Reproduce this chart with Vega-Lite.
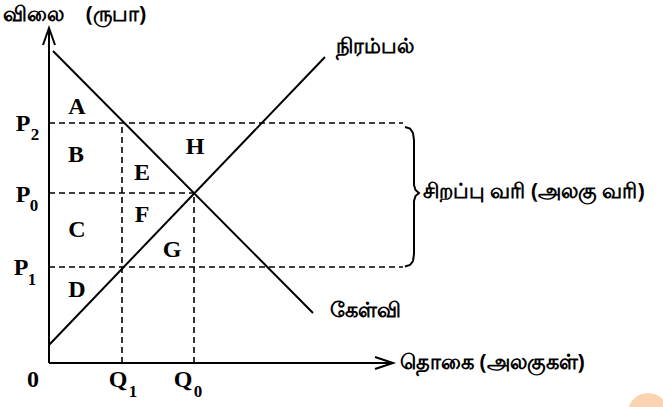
{
  "$schema": "https://vega.github.io/schema/vega-lite/v6.json",
  "width": 663,
  "height": 407,
  "autosize": {"type": "none"},
  "padding": 0,
  "background": "white",
  "config": {"view": {"stroke": null}},
  "datasets": {
    "solid": [
      {"id": "demand", "ord": 1, "x": 0.4, "y": 31.2},
      {"id": "demand", "ord": 2, "x": 26.4, "y": 5.0},
      {"id": "supply", "ord": 1, "x": 0, "y": 1.8},
      {"id": "supply", "ord": 2, "x": 27.6, "y": 30.6},
      {"id": "yaxis", "ord": 1, "x": 0, "y": 0},
      {"id": "yaxis", "ord": 2, "x": 0, "y": 33.4},
      {"id": "yarrow", "ord": 1, "x": -0.6, "y": 31.8},
      {"id": "yarrow", "ord": 2, "x": 0, "y": 33.5},
      {"id": "yarrow", "ord": 3, "x": 0.6, "y": 31.8},
      {"id": "xaxis", "ord": 1, "x": 0, "y": 0},
      {"id": "xaxis", "ord": 2, "x": 34.4, "y": 0},
      {"id": "xarrow", "ord": 1, "x": 32.6, "y": 0.6},
      {"id": "xarrow", "ord": 2, "x": 34.4, "y": 0},
      {"id": "xarrow", "ord": 3, "x": 32.6, "y": -0.6},
      {"id": "brace", "ord": 1, "x": 35.6, "y": 23.6},
      {"id": "brace", "ord": 2, "x": 36.1, "y": 23.45},
      {"id": "brace", "ord": 3, "x": 36.4, "y": 23.0},
      {"id": "brace", "ord": 4, "x": 36.5, "y": 22.3},
      {"id": "brace", "ord": 5, "x": 36.5, "y": 17.8},
      {"id": "brace", "ord": 6, "x": 36.65, "y": 17.3},
      {"id": "brace", "ord": 7, "x": 37.0, "y": 17.0},
      {"id": "brace", "ord": 8, "x": 36.65, "y": 16.7},
      {"id": "brace", "ord": 9, "x": 36.5, "y": 16.2},
      {"id": "brace", "ord": 10, "x": 36.5, "y": 10.9},
      {"id": "brace", "ord": 11, "x": 36.4, "y": 10.2},
      {"id": "brace", "ord": 12, "x": 36.1, "y": 9.8},
      {"id": "brace", "ord": 13, "x": 35.6, "y": 9.65}
    ],
    "dashed": [
      {"id": "p2", "ord": 1, "x": 0, "y": 24.0},
      {"id": "p2", "ord": 2, "x": 35.4, "y": 24.0},
      {"id": "p0", "ord": 1, "x": 0, "y": 17.0},
      {"id": "p0", "ord": 2, "x": 14.5, "y": 17.0},
      {"id": "p1", "ord": 1, "x": 0, "y": 9.6},
      {"id": "p1", "ord": 2, "x": 35.4, "y": 9.6},
      {"id": "q1", "ord": 1, "x": 7.3, "y": 0},
      {"id": "q1", "ord": 2, "x": 7.3, "y": 24.0},
      {"id": "q0", "ord": 1, "x": 14.5, "y": 0},
      {"id": "q0", "ord": 2, "x": 14.5, "y": 17.0}
    ],
    "letters": [
      {"t": "A", "x": 2.8, "y": 25.6},
      {"t": "B", "x": 2.7, "y": 20.8},
      {"t": "C", "x": 2.8, "y": 13.3},
      {"t": "D", "x": 2.8, "y": 7.3},
      {"t": "E", "x": 9.3, "y": 19.0},
      {"t": "F", "x": 9.3, "y": 14.8},
      {"t": "G", "x": 12.3, "y": 11.3},
      {"t": "H", "x": 14.6, "y": 21.6},
      {"t": "P", "x": -2.6, "y": 23.9},
      {"t": "P", "x": -2.6, "y": 16.8},
      {"t": "P", "x": -2.8, "y": 9.5},
      {"t": "0", "x": -1.6, "y": -1.7},
      {"t": "Q", "x": 6.9, "y": -1.7},
      {"t": "Q", "x": 13.4, "y": -1.7}
    ],
    "subs": [
      {"t": "2", "x": -1.4, "y": 22.8},
      {"t": "0", "x": -1.5, "y": 15.7},
      {"t": "1", "x": -1.7, "y": 8.3},
      {"t": "1", "x": 8.4, "y": -2.9},
      {"t": "0", "x": 14.9, "y": -2.9}
    ],
    "tamil": [
      {"t": "விலை\u00a0\u00a0\u00a0\u00a0(ருபா)", "x": -4.6, "y": 34.8},
      {"t": "நிரம்பல்", "x": 28.7, "y": 31.6},
      {"t": "கேள்வி", "x": 28.1, "y": 5.2},
      {"t": "சிறப்பு வரி (அலகு வரி)", "x": 37.4, "y": 17.1},
      {"t": "தொகை (அலகுகள்)", "x": 35.1, "y": 0}
    ],
    "blob": [{"x": 59.9, "y": -5.0}]
  },
  "encoding": {
    "x": {"field": "x", "type": "quantitative", "scale": {"domain": [-4.9, 61.4], "nice": false, "zero": false}, "axis": null},
    "y": {"field": "y", "type": "quantitative", "scale": {"domain": [-4.4, 36.3], "nice": false, "zero": false}, "axis": null}
  },
  "layer": [
    {
      "data": {"name": "blob"},
      "mark": {"type": "point", "filled": true, "shape": "circle", "size": 1600, "color": "#fbd3b0", "opacity": 1}
    },
    {
      "data": {"name": "dashed"},
      "mark": {"type": "line", "color": "black", "strokeWidth": 1.6, "strokeDash": [6, 4]},
      "encoding": {"detail": {"field": "id"}, "order": {"field": "ord", "type": "quantitative"}}
    },
    {
      "data": {"name": "solid"},
      "mark": {"type": "line", "color": "black", "strokeWidth": 2},
      "encoding": {"detail": {"field": "id"}, "order": {"field": "ord", "type": "quantitative"}}
    },
    {
      "data": {"name": "letters"},
      "mark": {"type": "text", "font": "Liberation Serif", "fontWeight": "bold", "fontSize": 24, "baseline": "middle", "align": "center", "color": "black"},
      "encoding": {"text": {"field": "t"}}
    },
    {
      "data": {"name": "subs"},
      "mark": {"type": "text", "font": "Liberation Serif", "fontWeight": "bold", "fontSize": 17, "baseline": "middle", "align": "center", "color": "black"},
      "encoding": {"text": {"field": "t"}}
    },
    {
      "data": {"name": "tamil"},
      "mark": {"type": "text", "font": "Noto Sans", "fontSize": 21, "fontWeight": "bold", "baseline": "middle", "align": "left", "color": "black"},
      "encoding": {"text": {"field": "t"}}
    }
  ]
}
